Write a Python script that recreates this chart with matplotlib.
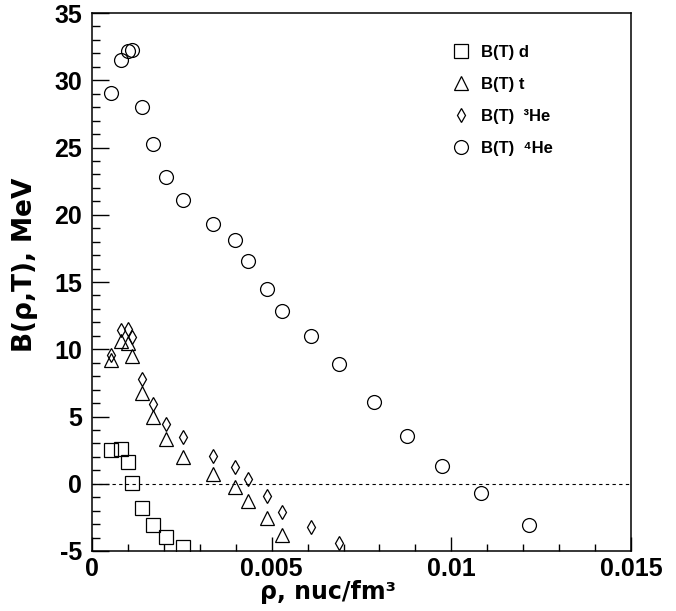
import matplotlib
matplotlib.use("Agg")
import matplotlib.pyplot as plt
from matplotlib.ticker import MultipleLocator

plt.rcParams["font.family"] = ["Liberation Sans", "DejaVu Sans"]
plt.rcParams["mathtext.fontset"] = "custom"
plt.rcParams["mathtext.rm"] = "DejaVu Sans:bold"
plt.rcParams["mathtext.bf"] = "DejaVu Sans:bold"
plt.rcParams["axes.unicode_minus"] = False

# densities, nuc/fm^3 (shared by all series)
rho = [0.00053, 0.00081, 0.00101, 0.00112, 0.00140, 0.00169, 0.00206,
       0.00254, 0.00338, 0.00398, 0.00433, 0.00488, 0.00528, 0.00609,
       0.00688, 0.00786, 0.00877, 0.00973, 0.01083, 0.01216]

# binding energies, MeV
b_d = [2.52, 2.55, 1.65, 0.07, -1.83, -3.07, -3.93, -4.68]
b_t = [9.2, 10.6, 10.45, 9.5, 6.72, 4.94, 3.30, 2.01, 0.72, -0.22, -1.28,
       -2.52, -3.83]
b_he3 = [9.55, 11.45, 11.5, 10.88, 7.8, 5.93, 4.47, 3.45, 2.08, 1.25, 0.36,
         -0.88, -2.12, -3.25, -4.38]
b_he4 = [29.02, 31.48, 32.18, 32.22, 28.04, 25.24, 22.84, 21.07, 19.28,
         18.15, 16.58, 14.47, 12.82, 11.0, 8.89, 6.08, 3.56, 1.33, -0.67,
         -3.07]

labels = ["B(T) d", "B(T) t", "B(T)  \u00b3He", "B(T)  \u2074He"]


def main():
    fig = plt.figure(figsize=(6.76, 6.11), dpi=100)
    ax = fig.add_axes([0.1361, 0.0982, 0.7973, 0.8805])

    mk = dict(linestyle="none", markerfacecolor="none", markeredgecolor="black",
              markeredgewidth=0.9)
    ax.plot(rho[:len(b_d)], b_d, marker="s", markersize=10, label=labels[0], **mk)
    ax.plot(rho[:len(b_t)], b_t, marker="^", markersize=10, label=labels[1], **mk)
    ax.plot(rho[:len(b_he3)], b_he3, marker="d", markersize=7, label=labels[2], **mk)
    ax.plot(rho[:len(b_he4)], b_he4, marker="o", markersize=10, label=labels[3], **mk)

    ax.axhline(0, color="black", linewidth=0.8, linestyle=(0, (3, 3)))

    ax.set_xlim(0, 0.015)
    ax.set_ylim(-5, 35)
    ax.set_xticks([0, 0.005, 0.01, 0.015])
    ax.set_xticklabels(["0", "0.005", "0.01", "0.015"])
    ax.xaxis.set_minor_locator(MultipleLocator(0.001))
    ax.yaxis.set_major_locator(MultipleLocator(5))
    ax.yaxis.set_minor_locator(MultipleLocator(1))

    ax.tick_params(which="both", direction="in", top=False, right=False,
                   width=1.0, labelsize=18)
    ax.tick_params(axis="x", which="major", length=10, pad=4)
    ax.tick_params(axis="x", which="minor", length=5)
    ax.tick_params(axis="y", which="major", length=12, pad=7)
    ax.tick_params(axis="y", which="minor", length=6)
    for lab in ax.get_xticklabels() + ax.get_yticklabels():
        lab.set_fontweight("bold")
    for sp in ax.spines.values():
        sp.set_linewidth(1.1)

    ax.set_xlabel("\u03c1, nuc/fm\u00b3", fontsize=17,
                  fontweight="bold", family="DejaVu Sans")
    ax.xaxis.set_label_coords(0.438, -0.054)
    ax.set_ylabel(r"B($\mathregular{\rho}$,T), MeV", fontsize=19,
                  fontweight="bold", family="DejaVu Sans")
    ax.yaxis.set_label_coords(-0.097, 0.532)

    ax.legend(loc="upper left", bbox_to_anchor=(0.666, 0.941), frameon=False,
              borderaxespad=0, borderpad=0,
              prop={"weight": "bold", "size": 12,
                    "family": ["Liberation Sans", "DejaVu Sans"]},
              handletextpad=0.6, labelspacing=1.02, handlelength=1.2)

    fig.savefig("out.png", dpi=100)


if __name__ == "__main__":
    main()
